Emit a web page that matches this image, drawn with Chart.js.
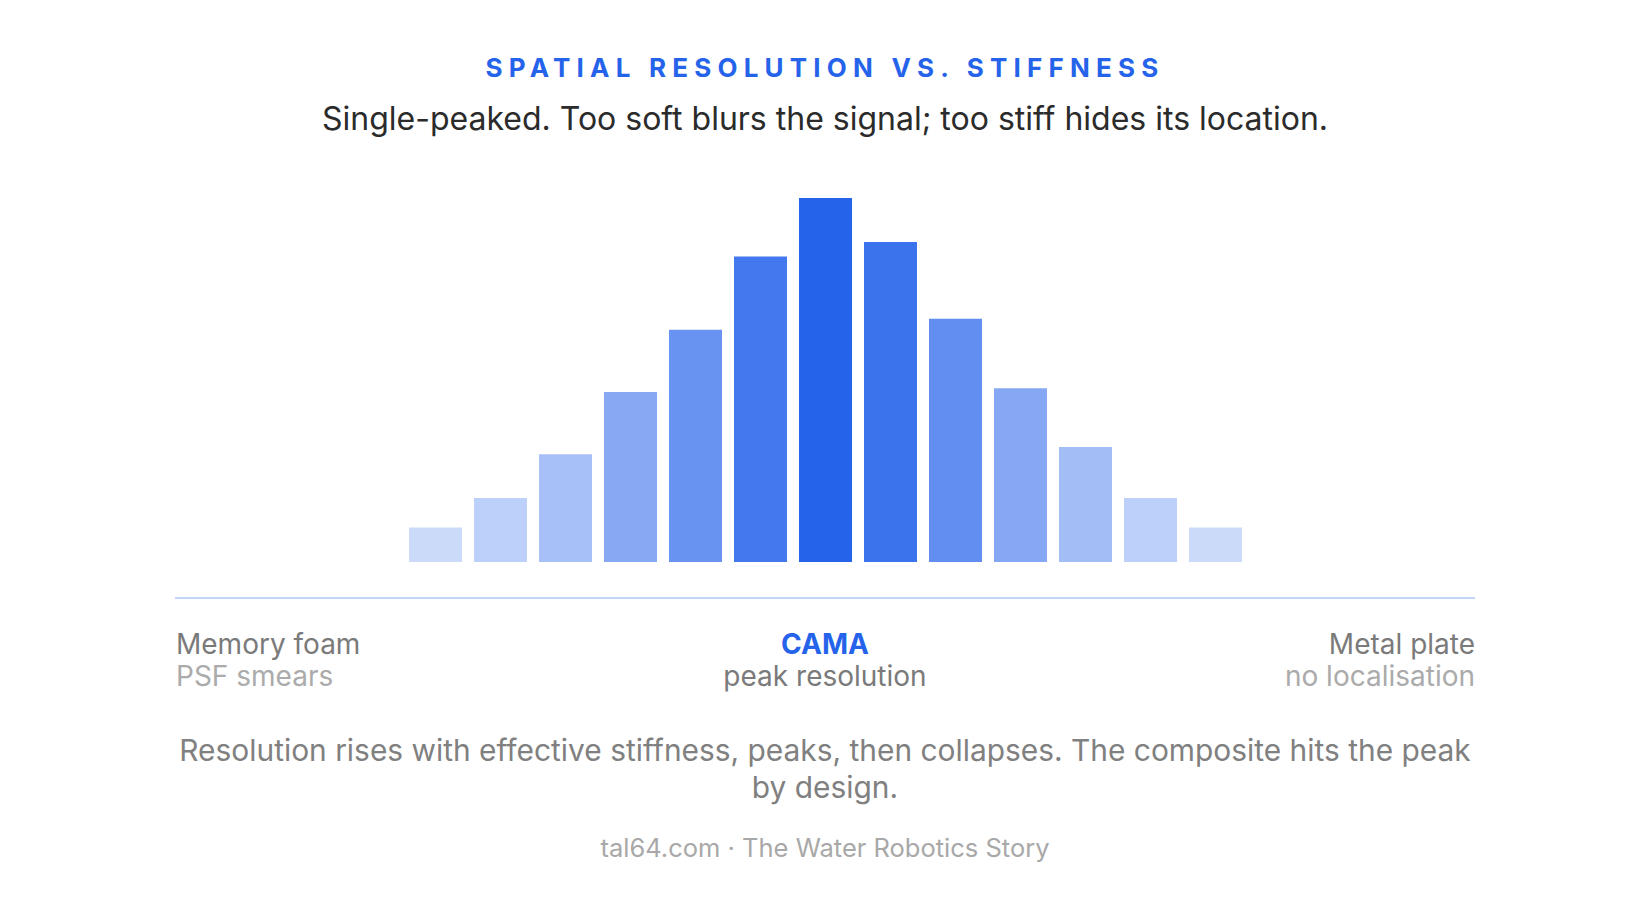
<!DOCTYPE html>
<html>
<head>
<meta charset="utf-8">
<script src="https://cdn.jsdelivr.net/npm/chart.js@4.4.1/dist/chart.umd.min.js"></script>
<style>
  html, body { margin: 0; padding: 0; background: #ffffff; }
  body { width: 1650px; height: 913px; position: relative; overflow: hidden; font-family: "Inter", "Noto Sans", sans-serif; }
  .t { position: absolute; white-space: nowrap; }
  #title { left: 0; width: 1650px; top: 50px; height: 36px; line-height: 36px; text-align: center; font-size: 26px; font-weight: 700; letter-spacing: 6.2px; color: #2563eb; }
  #subtitle { left: 0; width: 1650px; top: 99px; height: 40px; line-height: 40px; text-align: center; font-size: 32px; font-weight: 400; color: #2b2b2b; }
  #chartBox { position: absolute; left: 403px; top: 197px; width: 845px; height: 366px; }
  #axisLine { position: absolute; left: 175px; top: 597px; width: 1300px; height: 2px; background: #c2d4f7; }
  .lab { font-size: 28px; line-height: 32px; height: 32px; }
  .main { color: #7a7a7a; }
  .sub { color: #ababab; }
  #cap { position: absolute; left: 175px; width: 1300px; top: 732px; text-align: center; font-size: 29.9px; line-height: 37px; color: #808080; white-space: normal; }
  #foot { left: 0; width: 1650px; top: 833px; height: 30px; line-height: 30px; text-align: center; font-size: 25.5px; color: #a8a8a8; }
</style>
</head>
<body>
<div id="title" class="t">SPATIAL RESOLUTION VS. STIFFNESS</div>
<div id="subtitle" class="t">Single-peaked. Too soft blurs the signal; too stiff hides its location.</div>
<div id="chartBox"><canvas id="c"></canvas></div>
<div id="axisLine"></div>
<div id="lblLeft1" class="t lab main"></div>
<div id="lblLeft2" class="t lab sub"></div>
<div id="lblMid1" class="t lab"></div>
<div id="lblMid2" class="t lab main"></div>
<div id="lblRight1" class="t lab main"></div>
<div id="lblRight2" class="t lab sub"></div>
<div id="cap"></div>
<div id="foot" class="t"></div>
<script>
// ---- data ----
const categories = ["1","2","3","4","5","6","7","8","9","10","11","12","13"];
const resolution = [10, 18, 30, 47, 64, 84, 100, 88, 67, 48, 32, 18, 10];
const endLabels = ["Memory foam", "CAMA", "Metal plate"];
const endNotes = ["PSF smears", "peak resolution", "no localisation"];
const caption = "Resolution rises with effective stiffness, peaks, then collapses. The composite hits the peak by design.";
const footer = "tal64.com · The Water Robotics Story";

// ---- text ----
function place(id, text, style) {
  const el = document.getElementById(id);
  el.textContent = text;
  Object.assign(el.style, style);
}
place("lblLeft1", endLabels[0], { left: "176px", top: "628px" });
place("lblLeft2", endNotes[0], { left: "176px", top: "660px" });
place("lblMid1", endLabels[1], { left: "525px", width: "600px", textAlign: "center", top: "628px", color: "#2563eb", fontWeight: "700" });
place("lblMid2", endNotes[1], { left: "525px", width: "600px", textAlign: "center", top: "660px" });
place("lblRight1", endLabels[2], { right: "175px", textAlign: "right", top: "628px" });
place("lblRight2", endNotes[2], { right: "175px", textAlign: "right", top: "660px" });
document.getElementById("cap").textContent = caption;
document.getElementById("foot").textContent = footer;

// ---- chart ----
const maxV = Math.max(...resolution);
const fills = resolution.map(v => `rgba(37, 99, 235, ${(0.15 + 0.85 * v / maxV).toFixed(3)})`);

new Chart(document.getElementById("c"), {
  type: "bar",
  data: {
    labels: categories,
    datasets: [{
      data: resolution,
      backgroundColor: fills,
      borderColor: "rgba(255,255,255,0.45)",
      borderWidth: 1,
      borderSkipped: false,
      categoryPercentage: 1.0,
      barPercentage: 0.846
    }]
  },
  options: {
    responsive: true,
    maintainAspectRatio: false,
    animation: false,
    layout: { padding: 0 },
    plugins: { legend: { display: false }, tooltip: { enabled: false }, title: { display: false } },
    scales: {
      x: { display: false },
      y: { display: false, min: 0, max: maxV }
    }
  }
});
</script>
</body>
</html>
